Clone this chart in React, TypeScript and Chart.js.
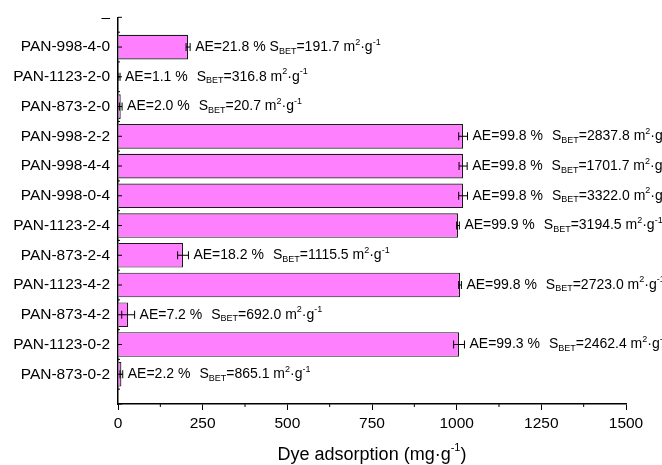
import React, { useEffect, useRef } from "react";
import { Chart, registerables } from "chart.js";

Chart.register(...registerables);

const categories = [
  "PAN-998-4-0",
  "PAN-1123-2-0",
  "PAN-873-2-0",
  "PAN-998-2-2",
  "PAN-998-4-4",
  "PAN-998-0-4",
  "PAN-1123-2-4",
  "PAN-873-2-4",
  "PAN-1123-4-2",
  "PAN-873-4-2",
  "PAN-1123-0-2",
  "PAN-873-0-2",
];
const adsorption = [207, 3, 8, 1019, 1019, 1019, 1004, 192, 1010, 30, 1007, 10];
const errors = [6, 3, 4, 13, 12, 13, 4, 16, 4, 19, 16, 4];
const aeLabels = ["21.8", "1.1", "2.0", "99.8", "99.8", "99.8", "99.9", "18.2", "99.8", "7.2", "99.3", "2.2"];
const sbetLabels = ["191.7", "316.8", "20.7", "2837.8", "1701.7", "3322.0", "3194.5", "1115.5", "2723.0", "692.0", "2462.4", "865.1"];
const xMin = 0;
const xMax = 1500;
const xStep = 250;
const topLabel = "–";
const xTitleMain = "Dye adsorption (mg·g";
const xTitleSup = "-1";
const xTitleEnd = ")";

const FONT = '"Liberation Sans", Arial, Helvetica, sans-serif';

const yLabels = [topLabel, ...categories, ""];
const barData = [null, ...adsorption, null];

const overlayPlugin = {
  id: "overlay",
  afterDatasetsDraw(chart: any) {
    const ctx = chart.ctx;
    const xs = chart.scales.x;
    const ys = chart.scales.y;
    const area = chart.chartArea;
    ctx.save();
    // error bars
    ctx.strokeStyle = "#000";
    ctx.lineWidth = 1;
    adsorption.forEach((v, i) => {
      const y = ys.getPixelForValue(i + 1);
      const x1 = xs.getPixelForValue(Math.max(0, v - errors[i]));
      const x2 = xs.getPixelForValue(v + errors[i]);
      ctx.beginPath();
      ctx.moveTo(x1, y);
      ctx.lineTo(x2, y);
      ctx.moveTo(x1, y - 4);
      ctx.lineTo(x1, y + 4);
      ctx.moveTo(x2, y - 4);
      ctx.lineTo(x2, y + 4);
      ctx.stroke();
    });
    // annotations
    ctx.fillStyle = "#000";
    ctx.textBaseline = "middle";
    ctx.textAlign = "left";
    const big = `14px ${FONT}`;
    const small = `9px ${FONT}`;
    adsorption.forEach((v, i) => {
      const y = ys.getPixelForValue(i + 1);
      let x = xs.getPixelForValue(v + errors[i]) + 5;
      const put = (t: string, f: string, dy: number) => {
        ctx.font = f;
        ctx.fillText(t, x, y + dy);
        x += ctx.measureText(t).width;
      };
      put(`AE=${aeLabels[i]} %`, big, 0);
      x += i === 0 ? 4 : 9;
      put("S", big, 0);
      put("BET", small, 4);
      put(`=${sbetLabels[i]} m`, big, 0);
      put("2", small, -5);
      put("·g", big, 0);
      put(xTitleSup, small, -5);
    });
    // y-axis inner ticks
    ctx.lineWidth = 1;
    for (let i = 0; i < yLabels.length; i++) {
      const y = ys.getPixelForValue(i);
      ctx.beginPath();
      ctx.moveTo(area.left, y);
      ctx.lineTo(area.left + 4, y);
      ctx.stroke();
      if (i < yLabels.length - 1) {
        const ym = (y + ys.getPixelForValue(i + 1)) / 2;
        ctx.beginPath();
        ctx.moveTo(area.left, ym);
        ctx.lineTo(area.left + 2, ym);
        ctx.stroke();
      }
    }
    // x-axis minor ticks
    for (let v = xMin + xStep / 2; v < xMax; v += xStep) {
      const x = xs.getPixelForValue(v);
      ctx.beginPath();
      ctx.moveTo(x, area.bottom);
      ctx.lineTo(x, area.bottom + 3);
      ctx.stroke();
    }
    // x title
    const tf = `18px ${FONT}`;
    const sf = `11px ${FONT}`;
    ctx.font = tf;
    const w1 = ctx.measureText(xTitleMain).width;
    ctx.font = sf;
    const w2 = ctx.measureText(xTitleSup).width;
    ctx.font = tf;
    const w3 = ctx.measureText(xTitleEnd).width;
    const total = w1 + w2 + w3;
    let tx = (area.left + area.right) / 2 - total / 2;
    const ty = 455;
    ctx.fillText(xTitleMain, tx, ty);
    tx += w1;
    ctx.font = sf;
    ctx.fillText(xTitleSup, tx, ty - 7);
    tx += w2;
    ctx.font = tf;
    ctx.fillText(xTitleEnd, tx, ty);
    ctx.restore();
  },
};

export default function App() {
  const ref = useRef<HTMLCanvasElement | null>(null);
  useEffect(() => {
    if (!ref.current) return;
    const chart = new Chart(ref.current, {
      type: "bar",
      data: {
        labels: yLabels,
        datasets: [
          {
            data: barData as any,
            backgroundColor: "#FF80FF",
            borderColor: "#1a1a1a",
            borderWidth: 1.2,
            categoryPercentage: 1,
            barPercentage: 0.83,
          },
        ],
      },
      options: {
        indexAxis: "y",
        responsive: false,
        animation: false,
        devicePixelRatio: 1,
        layout: { padding: { top: 13, right: 36, left: 0, bottom: 0 } },
        plugins: { legend: { display: false }, tooltip: { enabled: false } },
        scales: {
          x: {
            type: "linear",
            min: xMin,
            max: xMax,
            ticks: {
              stepSize: xStep,
              color: "#000",
              font: { family: FONT, size: 15.5 },
              padding: 4,
              callback: (v: any) => String(v),
            },
            grid: { drawOnChartArea: false, color: "#000", tickLength: 6, tickWidth: 1 },
            border: { color: "#000", width: 1.5 },
            afterFit: (s: any) => {
              s.height = 61;
            },
          },
          y: {
            type: "category",
            offset: false,
            ticks: {
              autoSkip: false,
              color: "#000",
              font: { family: FONT, size: 15.5 },
              padding: 8,
            },
            grid: { drawOnChartArea: false, drawTicks: false },
            border: { color: "#000", width: 1.5 },
            afterFit: (s: any) => {
              s.width = 118;
            },
          },
        },
      },
      plugins: [overlayPlugin],
    });
    return () => chart.destroy();
  }, []);
  return (
    <div style={{ position: "fixed", left: 0, top: 0, width: 662, height: 465, background: "#fff" }}>
      <canvas ref={ref} width={662} height={465} style={{ width: 662, height: 465, display: "block" }} />
    </div>
  );
}
